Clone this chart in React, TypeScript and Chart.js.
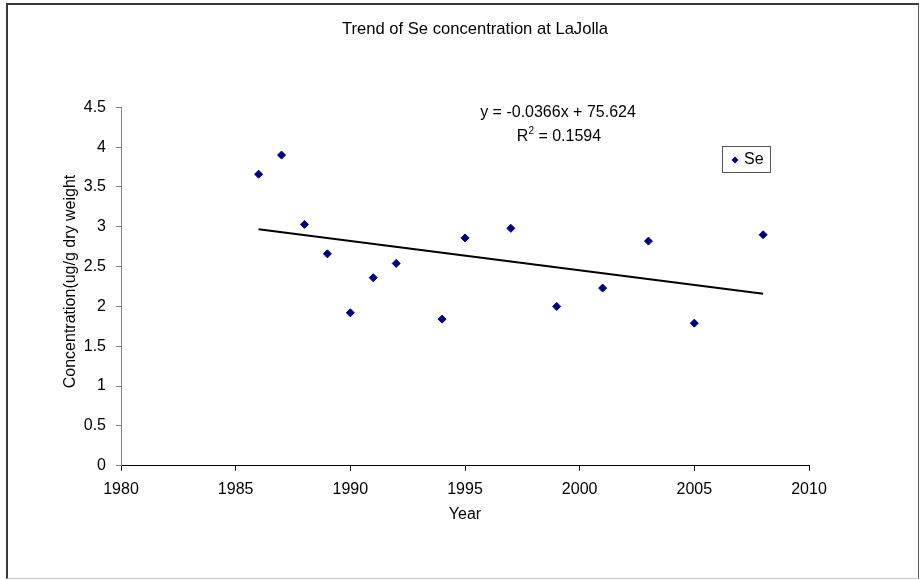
import React, { useEffect, useRef } from "react";
import { Chart, registerables } from "chart.js";

Chart.register(...registerables);

// ---- data ----
const years = [1986, 1987, 1988, 1989, 1990, 1991, 1992, 1994, 1995, 1997, 1999, 2001, 2003, 2005, 2008];
const seValues = [3.66, 3.9, 3.03, 2.66, 1.92, 2.36, 2.54, 1.84, 2.86, 2.98, 2.0, 2.23, 2.82, 1.79, 2.9];
const trendYears = [1986, 2008];
const trendValues = [2.97, 2.16];
const xTickValues = [1980, 1985, 1990, 1995, 2000, 2005, 2010];
const yTickValues = [0, 0.5, 1, 1.5, 2, 2.5, 3, 3.5, 4, 4.5];
const chartTitle = "Trend of Se concentration at LaJolla";
const equationText = "y = -0.0366x + 75.624";
const rLabel = "R";
const rSup = "2";
const rValueText = " = 0.1594";
const seriesName = "Se";
const xTitle = "Year";
const yTitle = "Concentration(ug/g dry weight";

const FONT = '"Liberation Sans", Arial, sans-serif';
const NAVY = "#000080";

const overlayPlugin = {
  id: "overlayTexts",
  afterDraw(chart: any) {
    const ctx = chart.ctx as CanvasRenderingContext2D;
    ctx.save();
    ctx.fillStyle = "#000";
    ctx.textBaseline = "middle";
    // title
    ctx.textAlign = "center";
    ctx.font = `16.6px ${FONT}`;
    ctx.fillText(chartTitle, 475, 29);
    // regression equation
    ctx.font = `16px ${FONT}`;
    ctx.fillText(equationText, 558, 113);
    // y axis title
    ctx.save();
    ctx.translate(71, 281.5);
    ctx.rotate(-Math.PI / 2);
    ctx.fillText(yTitle, 0, 0);
    ctx.restore();
    // R^2 line
    ctx.textAlign = "left";
    ctx.font = `16px ${FONT}`;
    const wR = ctx.measureText(rLabel).width;
    const wV = ctx.measureText(rValueText).width;
    ctx.font = `10px ${FONT}`;
    const wS = ctx.measureText(rSup).width;
    const total = wR + wS + wV;
    let x = 559 - total / 2;
    ctx.font = `16px ${FONT}`;
    ctx.fillText(rLabel, x, 137);
    x += wR;
    ctx.font = `10px ${FONT}`;
    ctx.fillText(rSup, x, 131);
    x += wS;
    ctx.font = `16px ${FONT}`;
    ctx.fillText(rValueText, x, 137);
    // legend box
    ctx.strokeStyle = "#555";
    ctx.lineWidth = 1;
    ctx.strokeRect(722.5, 146.5, 48, 26);
    ctx.fillStyle = NAVY;
    ctx.beginPath();
    ctx.moveTo(735, 156.5);
    ctx.lineTo(738.5, 160);
    ctx.lineTo(735, 163.5);
    ctx.lineTo(731.5, 160);
    ctx.closePath();
    ctx.fill();
    ctx.fillStyle = "#000";
    ctx.font = `16px ${FONT}`;
    ctx.fillText(seriesName, 744, 160);
    ctx.restore();
  },
};

export default function App() {
  const canvasRef = useRef<HTMLCanvasElement | null>(null);

  useEffect(() => {
    if (!canvasRef.current) return;
    const chart = new Chart(canvasRef.current, {
      type: "scatter",
      data: {
        datasets: [
          {
            label: seriesName,
            data: years.map((y, i) => ({ x: y, y: seValues[i] })),
            pointStyle: "rectRot",
            pointRadius: 4,
            pointBackgroundColor: NAVY,
            pointBorderColor: NAVY,
            pointBorderWidth: 1,
            showLine: false,
            order: 2,
          },
          {
            label: "Trend",
            data: trendYears.map((y, i) => ({ x: y, y: trendValues[i] })),
            showLine: true,
            borderColor: "#000",
            borderWidth: 2,
            pointRadius: 0,
            fill: false,
            order: 1,
          },
        ],
      },
      options: {
        responsive: false,
        animation: false,
        events: [],
        layout: { padding: { left: 0, right: 111, top: 107.3, bottom: 0 } },
        plugins: {
          legend: { display: false },
          title: { display: false },
          tooltip: { enabled: false },
        },
        scales: {
          x: {
            type: "linear",
            min: 1980,
            max: 2010,
            afterBuildTicks: (scale: any) => {
              scale.ticks = xTickValues.map((v) => ({ value: v }));
            },
            afterFit: (scale: any) => {
              scale.height = 580 - 465.7;
            },
            ticks: {
              color: "#000",
              font: { family: FONT, size: 16 },
              padding: 9,
              maxRotation: 0,
              autoSkip: false,
              callback: (v: any) => String(v),
            },
            grid: {
              display: true,
              drawOnChartArea: false,
              drawTicks: true,
              tickLength: 5,
              color: "#000",
            },
            border: { display: true, color: "#000", width: 1 },
            title: {
              display: true,
              text: xTitle,
              color: "#000",
              font: { family: FONT, size: 16 },
              padding: { top: 0, bottom: 55.4 },
            },
          },
          y: {
            type: "linear",
            min: 0,
            max: 4.5,
            afterBuildTicks: (scale: any) => {
              scale.ticks = yTickValues.map((v) => ({ value: v }));
            },
            afterFit: (scale: any) => {
              scale.width = 121;
            },
            ticks: {
              color: "#000",
              font: { family: FONT, size: 16 },
              padding: 10,
              autoSkip: false,
              callback: (v: any) => String(v),
            },
            grid: {
              display: true,
              drawOnChartArea: false,
              drawTicks: true,
              tickLength: 5,
              color: "#808080",
            },
            border: { display: true, color: "#808080", width: 1 },
            title: { display: false, text: yTitle },
          },
        },
      },
      plugins: [overlayPlugin],
    });
    return () => chart.destroy();
  }, []);

  return (
    <div style={{ position: "absolute", left: 0, top: 0, width: 920, height: 580, background: "#fff" }}>
      <canvas ref={canvasRef} width={920} height={580} style={{ position: "absolute", left: 0, top: 0 }} />
      <div
        style={{
          position: "absolute",
          left: 6,
          top: 3,
          width: 910,
          height: 573,
          borderTop: "2px solid #3a3a3a",
          borderLeft: "2px solid #3a3a3a",
          borderRight: "1px solid #555",
          borderBottom: "1px solid #c8c8c8",
          pointerEvents: "none",
        }}
      />
    </div>
  );
}
